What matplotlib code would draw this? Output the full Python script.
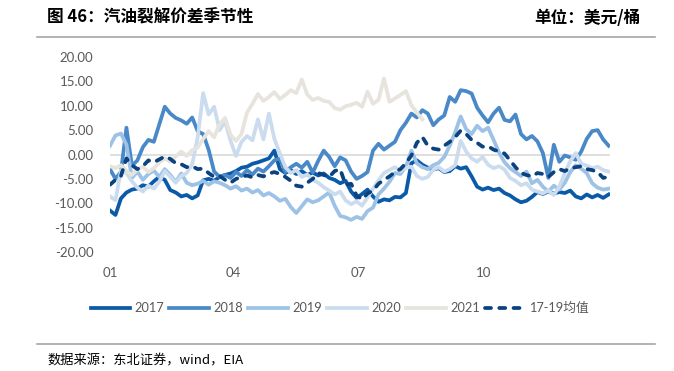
import matplotlib
matplotlib.use("Agg")
import matplotlib.pyplot as plt
import numpy as np

plt.rcParams['font.family'] = ['Lato', 'Noto Sans CJK SC', 'DejaVu Sans']

# day of year, one reading every 4 days
days = np.arange(0, 365, 4)
days_2021 = days[:58]

y2017 = [-11.5, -12.4, -9.0, -7.8, -7.2, -7.0, -6.3, -6.6, -5.5, -4.6,
         -5.2, -7.3, -7.8, -8.6, -8.3, -9.0, -8.4, -5.3, -5.0, -5.4,
         -4.6, -4.2, -3.9, -3.4, -2.7, -2.5, -1.9, -1.6, -1.2, -0.8,
         0.8, -3.0, -3.8, -3.2, -4.0, -3.4, -4.2, -3.7, -4.3, -3.9,
         -4.8, -5.2, -5.9, -5.4, -7.6, -8.9, -8.1, -7.2, -8.6, -9.7,
         -9.2, -9.4, -8.7, -8.8, -7.9, -1.8, -1.2, -2.1, -2.7, -3.1,
         -2.8, -3.6, -3.4, -2.4, -2.9, -2.6, -4.5, -6.6, -7.2, -6.8,
         -7.3, -7.0, -7.9, -8.4, -9.2, -9.8, -9.5, -8.7, -7.7, -8.1,
         -7.6, -8.0, -7.7, -7.9, -7.4, -8.6, -9.0, -8.2, -8.8, -8.3,
         -8.9, -8.2]

y2018 = [-3.0, -5.0, -3.5, 5.5, -2.3, -1.2, 1.5, 3.0, 2.6, 6.2,
         9.8, 8.4, 7.5, 7.0, 6.3, 7.6, 4.8, 4.2, 1.0, -3.5,
         -4.6, -4.2, -4.8, -3.6, -4.4, -3.2, -4.1, -2.9, -3.5, -2.4,
         -1.2, -0.8, -3.6, -2.6, -1.9, -2.7, -1.5, -3.7, -1.3, 0.8,
         -0.5, -2.4, -0.6, -1.2, -3.5, -5.0, -4.4, -3.6, 0.8, 2.2,
         1.0, 1.8, 2.6, 5.0, 6.5, 8.4, 7.6, 9.1, 8.4, 6.0,
         7.2, 8.0, 11.8, 10.8, 13.2, 13.0, 12.5, 9.6, 8.0, 6.6,
         8.4, 9.6, 7.1, 6.8, 8.2, 4.2, 3.1, 3.8, 2.7, 0.3,
         -4.8, 2.0, -1.5, -0.2, -0.6, -1.1, 0.6, 3.2, 4.8, 5.0,
         3.1, 1.8]

y2019 = [1.8, 3.9, 4.3, 2.0, -4.8, -3.5, -5.2, -4.0, -3.3, -4.6,
         -3.0, -4.2, -5.6, -3.9, -5.8, -6.3, -6.0, -5.4, -6.2, -5.5,
         -5.8, -6.3, -7.0, -6.5, -7.4, -7.0, -7.8, -7.3, -8.4, -7.9,
         -8.6, -9.5, -9.1, -10.8, -12.0, -10.6, -9.2, -9.8, -9.4, -8.6,
         -7.8, -10.5, -12.6, -12.9, -13.4, -12.8, -13.2, -11.6, -10.9, -8.2,
         -7.0, -5.6, -3.8, -4.0, -2.5, 0.8, -1.8, -2.6, -3.0, -2.2,
         -1.7, -0.5, 1.8, 4.6, 7.8, 5.2, 4.2, 5.9, 4.8, 5.5,
         3.0, 0.4, -1.6, -2.8, -3.6, -4.4, -3.5, -5.9, -5.2, -6.6,
         -7.6, -6.4, -7.2, -5.8, -3.6, -2.2, -2.9, -3.8, -5.9, -6.8,
         -7.2, -7.0]

y2020 = [-8.6, -9.4, -3.2, -3.8, -5.5, -6.8, -7.6, -6.4, -7.0, -5.6,
         -3.4, -4.6, -5.8, -4.4, -3.8, -2.0, 3.5, 12.6, 8.2, 9.8,
         5.0, 6.8, 2.8, -0.3, 2.6, 3.8, 2.9, 7.2, 3.1, 8.4,
         3.2, 0.2, -2.6, -3.8, -3.2, -4.6, -4.1, -5.2, -5.8, -6.7,
         -7.4, -8.2, -7.6, -9.4, -10.2, -9.6, -10.5, -8.8, -7.0, -5.3,
         -3.8, -3.2, -2.6, -3.4, -2.7, -2.5, -4.4, -5.0, -4.6, -3.1,
         -2.6, -3.5, -3.0, -2.2, 2.8, 0.6, -0.8, -1.5, -0.5, -2.1,
         -2.8, -2.4, -3.1, -4.8, -5.4, -6.3, -5.9, -7.2, -7.6, -8.0,
         -7.4, -8.3, -6.6, -3.8, -1.4, 0.3, -1.9, -2.3, -2.8, -2.5,
         -3.2, -3.5]

y2021 = [-2.4, -2.8, -2.2, -3.4, -4.2, -3.1, -2.5, -3.6, -2.8, -1.6,
         -0.8, -1.5, -0.4, 0.6, -0.3, 0.9, 1.4, 3.2, 4.8, 3.5,
         6.2, 7.5, 4.0, 2.8, 4.2, 8.6, 10.4, 12.4, 11.0, 11.8,
         12.8, 11.4, 12.2, 13.2, 12.6, 15.4, 12.3, 11.2, 11.6, 11.0,
         10.8, 9.5, 9.2, 9.9, 10.2, 10.6, 9.8, 12.9, 10.4, 11.2,
         15.6, 10.8, 11.5, 12.2, 13.0, 10.1, 8.6, 7.2]

y_avg = [-6.2, -5.2, -4.4, -0.8, -2.2, -3.0, -2.4, -1.2, -1.6, -1.0,
         -0.4, -0.9, -1.8, -2.0, -2.6, -2.4, -3.0, -2.9, -3.8, -4.6,
         -4.4, -5.2, -5.8, -5.0, -4.6, -4.3, -4.7, -4.2, -4.5, -3.9,
         -3.6, -4.0, -4.6, -5.4, -6.4, -6.6, -5.8, -5.0, -3.8, -4.2,
         -4.6, -3.4, -3.0, -6.2, -6.0, -8.4, -9.2, -8.0, -7.4, -6.0,
         -5.2, -4.5, -3.6, -3.0, -1.8, -0.2, 2.4, 3.6, 1.8, 1.2,
         1.0, 1.8, 2.6, 3.6, 4.9, 4.2, 3.0, 2.4, 1.6, 1.7,
         1.0, 0.6, 0.2, -1.2, -2.6, -3.8, -4.2, -4.5, -3.8, -4.0,
         -4.6, -3.6, -3.0, -3.4, -2.8, -2.6, -2.4, -3.0, -3.2, -3.6,
         -4.8, -4.6]

month_ticks = [0, 90, 181, 273]
month_labels = ['01', '04', '07', '10']
y_ticks = [20, 15, 10, 5, 0, -5, -10, -15, -20]

fig = plt.figure(figsize=(6.74, 3.71), dpi=100)
ax = fig.add_axes([110 / 674, 1 - 252 / 371, 500 / 674, 195 / 371])

lw = 2.7
ax.axhline(0, color='#d9d9d9', lw=1.2, zorder=1)
ax.plot(days, y2017, color='#0b5aa9', lw=lw, label='2017', zorder=3)
ax.plot(days, y2018, color='#4a89c7', lw=lw, label='2018', zorder=3)
ax.plot(days, y2019, color='#9dc2e5', lw=lw, label='2019', zorder=3)
ax.plot(days, y2020, color='#cbdcef', lw=lw, label='2020', zorder=3)
ax.plot(days_2021, y2021, color='#e7e4dd', lw=lw, label='2021', zorder=3)
ax.plot(days, y_avg, color='#0b4280', lw=lw, dashes=(1.6, 2.2),
        dash_capstyle='round', label='17-19均值', zorder=4)

ax.set_xlim(0, 365)
ax.set_ylim(-20, 20)
ax.set_xticks(month_ticks)
ax.set_xticklabels(month_labels)
ax.set_yticks(y_ticks)
ax.set_yticklabels([f'{v:.2f}' for v in y_ticks])
ax.tick_params(length=0, labelsize=9.5, colors='#595959')
ax.tick_params(axis='y', pad=12)
ax.tick_params(axis='x', pad=11)
for s in ax.spines.values():
    s.set_visible(False)

fig.legend(loc='center', bbox_to_anchor=(0.504, 1 - 308 / 371), ncol=6,
           frameon=False, fontsize=9.2, handlelength=3.1, handletextpad=0.35,
           columnspacing=0.4, labelcolor='#595959')

# header and footer
fig.text(47 / 674, 1 - 18 / 371, '图 46：汽油裂解价差季节性', fontsize=12,
         weight='bold', family=['Noto Sans CJK SC'], va='center', ha='left')
fig.text(640 / 674, 1 - 18 / 371, '单位：美元/桶', fontsize=12,
         weight='bold', family=['Noto Sans CJK SC'], va='center', ha='right')
fig.add_artist(plt.Line2D([37 / 674, 655 / 674], [1 - 37 / 371] * 2,
                          color='#a6a6a6', lw=1.2))
fig.add_artist(plt.Line2D([37 / 674, 655 / 674], [1 - 344 / 371] * 2,
                          color='#a6a6a6', lw=1.2))
fig.text(47 / 674, 1 - 361 / 371, '数据来源：东北证券，wind，EIA', fontsize=9.5,
         family=['Noto Sans CJK SC'], va='center', ha='left')

fig.savefig('out.png', dpi=100)
